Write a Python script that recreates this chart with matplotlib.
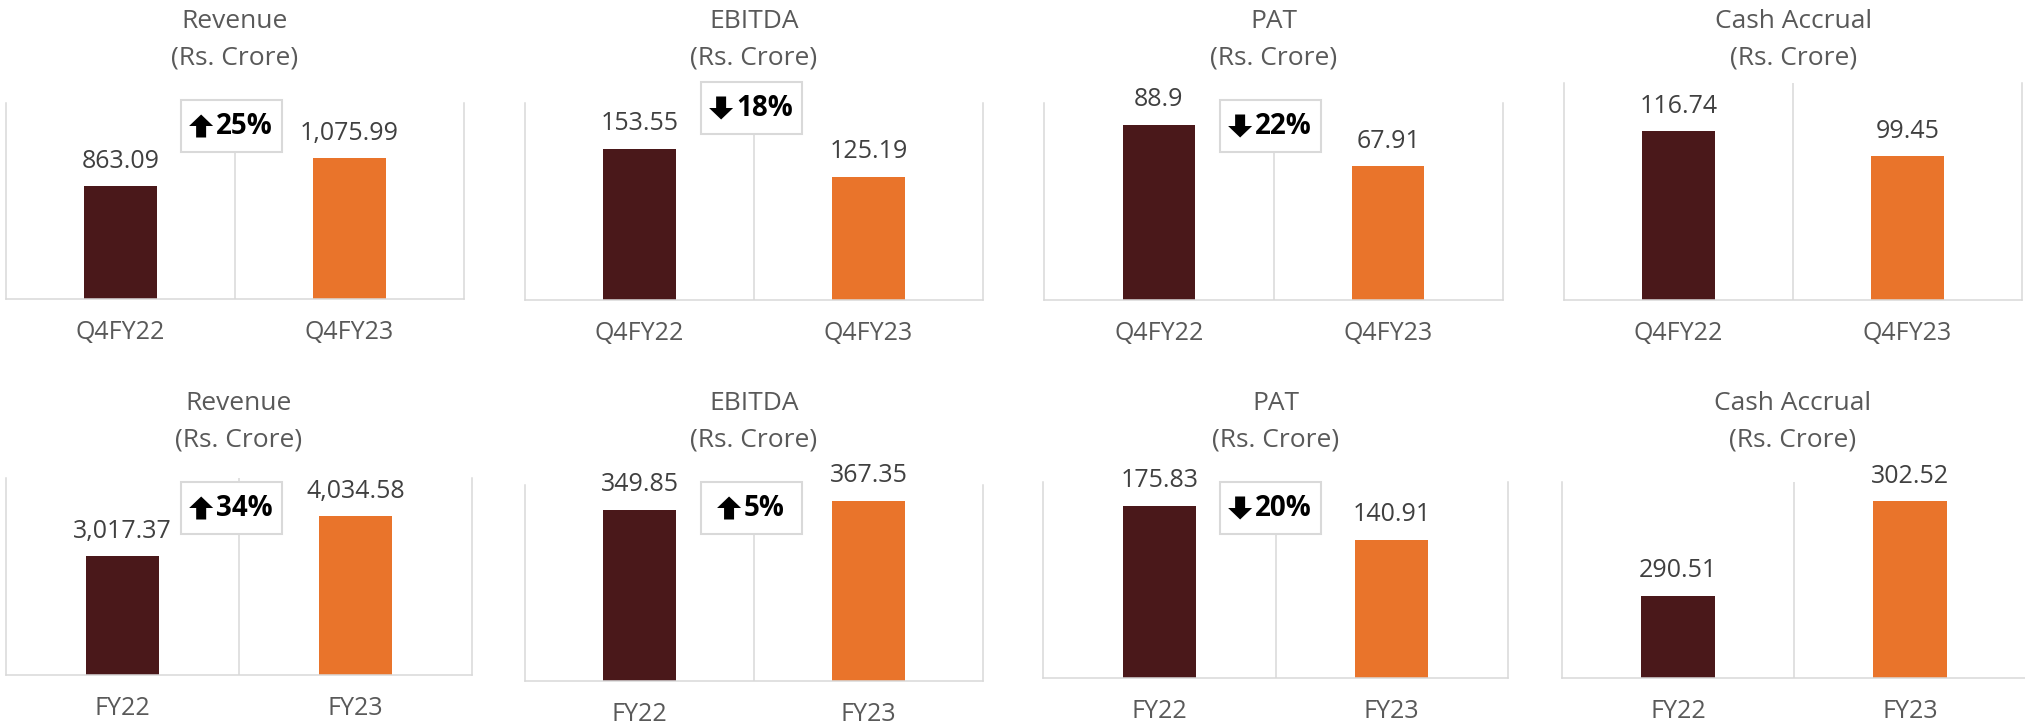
import matplotlib.pyplot as plt
from matplotlib.patches import Rectangle, Polygon

plt.rcParams['font.family'] = ['Open Sans', 'DejaVu Sans']

# data
titles = ['Revenue', 'EBITDA', 'PAT', 'Cash Accrual']
quarter_labels = ['Q4FY22', 'Q4FY23']
year_labels = ['FY22', 'FY23']
quarter_values = [[863.09, 1075.99], [153.55, 125.19], [88.9, 67.91], [116.74, 99.45]]
year_values = [[3017.37, 4034.58], [349.85, 367.35], [175.83, 140.91], [290.51, 302.52]]
quarter_change = [('up', '25%'), ('down', '18%'), ('down', '22%'), None]
year_change = [('up', '34%'), ('up', '5%'), ('down', '20%'), None]

W, H = 2025, 726
fig = plt.figure(figsize=(W / 100, H / 100), dpi=100)
renderer = fig.canvas.get_renderer()

dark = '#4A181A'
orange = '#E9742B'
grid = '#D9D9D9'

# panel frames in pixels: left, right, top, bottom, y limits
top_frames = [(6, 464, 103, 299, (0, 1500)), (525, 983, 103, 300, (0, 200)),
              (1044, 1503, 103, 300, (0, 100)), (1564, 2022, 83, 300, (0, 150))]
bot_frames = [(6, 472, 478, 675, (0, 5000)), (525, 983, 485, 681, (0, 400)),
              (1043, 1508, 482, 678, (0, 200)), (1562, 2026, 482, 678, (280, 305))]
top_badges = [(231, 126), (751, 108), (1270, 126), None]
bot_badges = [(231, 508), (751, 508), (1270, 508), None]


def px(x, y):
    return (x / W, 1 - y / H)


def badge_box(bx, by, change):
    fig.patches.append(Rectangle(px(bx - 50, by + 26), 101 / W, 52 / H,
                                 transform=fig.transFigure, facecolor='white',
                                 edgecolor=grid, lw=1.5, zorder=5))
    t = fig.text(0, 1 - by / H, change[1], ha='left', va='center', fontsize=20,
                 fontweight='bold', color='black', zorder=6)
    w = t.get_window_extent(renderer).width
    start = bx - (24 + 3 + w) / 2
    t.set_x((start + 27) / W)
    # block arrow (pixel offsets, y pointing down)
    ax_c, ay_c = start + 12, by
    s = 1 if change[0] == 'up' else -1
    shape = [(0, -11.5), (12, 0), (5, 0), (5, 11.5), (-5, 11.5), (-5, 0), (-12, 0)]
    pts = [px(ax_c + dx, ay_c + s * dy) for dx, dy in shape]
    fig.patches.append(Polygon(pts, closed=True, transform=fig.transFigure,
                               facecolor='black', edgecolor='none', zorder=6))


def panel(frame, vals, labels, title, title_y, change, badge):
    L, R, T, B, ylim = frame
    ax = fig.add_axes([L / W, 1 - B / H, (R - L) / W, (B - T) / H])
    ax.bar([0, 1], vals, width=0.315, color=[dark, orange])
    ax.set_xlim(-0.5, 1.5)
    ax.set_ylim(*ylim)
    ax.axvline(0.5, color=grid, lw=1.1)
    for s in ['left', 'right', 'bottom']:
        ax.spines[s].set_color(grid)
        ax.spines[s].set_linewidth(1.1)
    ax.spines['top'].set_visible(False)
    ax.set_yticks([])
    ax.set_xticks([0, 1])
    ax.set_xticklabels(labels, fontsize=18, color='#595959')
    ax.tick_params(axis='x', length=0, pad=15)
    for i, v in enumerate(vals):
        ax.annotate('{:,}'.format(v), (i, v), xytext=(0, 18), textcoords='offset points',
                    ha='center', va='center', fontsize=18, color='#404040')
    cx = (L + R) / 2
    if L > 1500:
        cx = (L + (R + L) / 2) / 2 + 115
    fig.text(cx / W, 1 - title_y / H, title, ha='center', va='center', fontsize=19, color='#595959')
    fig.text(cx / W, 1 - (title_y + 36) / H, '(Rs. Crore)', ha='center', va='center',
             fontsize=19, color='#595959')
    if change:
        badge_box(badge[0], badge[1], change)


for k in range(4):
    panel(top_frames[k], quarter_values[k], quarter_labels, titles[k], 22,
          quarter_change[k], top_badges[k])
    panel(bot_frames[k], year_values[k], year_labels, titles[k], 404,
          year_change[k], bot_badges[k])

fig.savefig('out.png', dpi=100)
